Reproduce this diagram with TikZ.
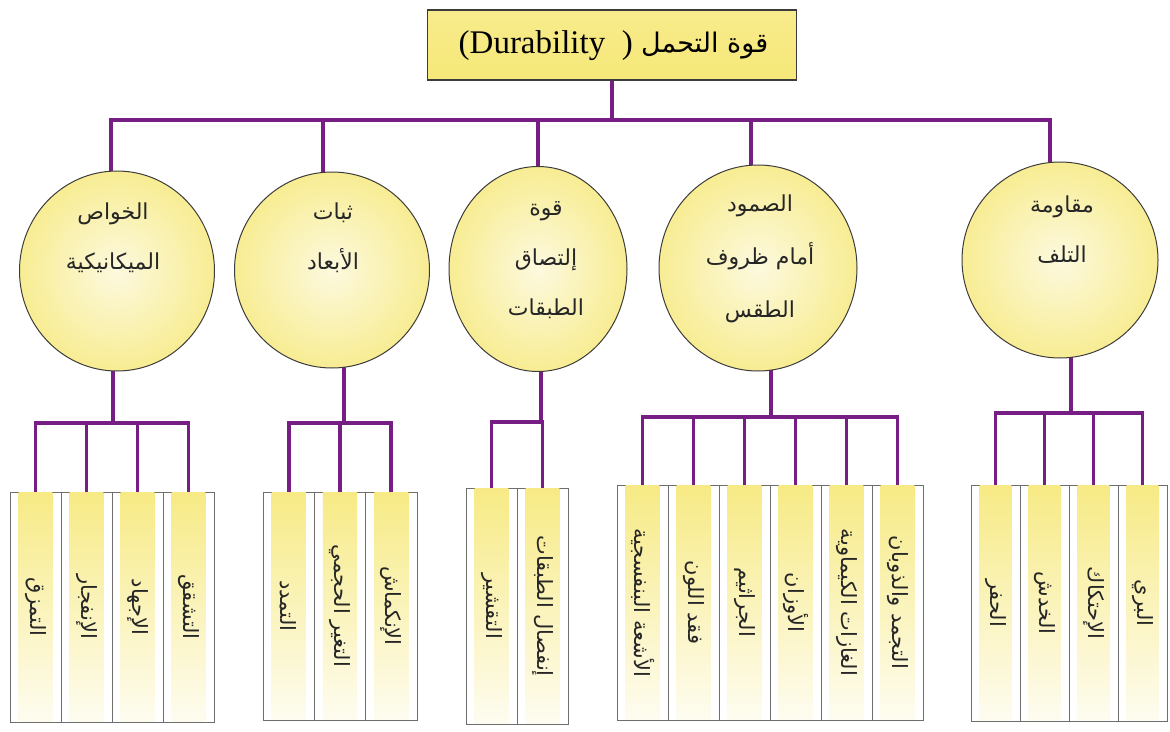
\documentclass[tikz,border=0pt]{standalone}
\usepackage{fontspec}
\setmainfont{Liberation Serif}
\newfontfamily\arabicfont[Script=Arabic]{DejaVu Sans}
\TeXXeTstate=1
\usetikzlibrary{shapes.geometric,calc,backgrounds}
\definecolor{conn}{RGB}{118,30,132}
\definecolor{yel}{RGB}{246,232,120}
\definecolor{yelpale}{RGB}{250,244,195}
\definecolor{edgegray}{RGB}{60,60,60}
\definecolor{leafgray}{RGB}{110,110,110}
\begin{document}
\begin{tikzpicture}[x=1pt,y=-1pt,
  link/.style={draw=conn,line width=3.8pt,line cap=rect,line join=miter},
  topbox/.style={rectangle,draw=edgegray,line width=1.1pt,top color=yel!85!white,bottom color=yel,minimum width=369pt,minimum height=70pt,inner sep=0pt},
  circ/.style={ellipse,draw=edgegray,line width=1pt,inner color=yelpale!55!white,outer color=yel!80!white,inner sep=0pt},
  circtext/.style={align=center,font={\arabicfont\fontsize{22}{50}\selectfont},text=black!85},
  leaf/.style={rectangle,draw=leafgray,line width=0.8pt,fill=white,inner sep=0pt},
  leaftext/.style={rotate=-90,font={\arabicfont\fontsize{21}{24}\selectfont},text=black!85},
  stripe/.style={top color=yel!90!white,middle color=yelpale!60!white,bottom color=yelpale!25!white}
]
\useasboundingbox (0,0) rectangle (1170,731);
\begin{scope}[on background layer]
  \fill[white] (0,0) rectangle (1170,731);
\end{scope}

% top box
\node[topbox] (top) at (612,45) {};
\node[font=\fontsize{33}{36}\selectfont,anchor=east,inner sep=0pt] (toplat) at (633,46) {(Durability\ \ )};
\node[font={\arabicfont\fontsize{27}{30}\selectfont},anchor=west,inner sep=0pt] (topar) at (641,46) {\beginR قوة التحمل\endR};

% circles
\node[circ,minimum width=195pt,minimum height=200pt] (c1) at (117,271) {};
\node[circ,minimum width=195pt,minimum height=196pt] (c2) at (332,270) {};
\node[circ,minimum width=178pt,minimum height=205pt] (c3) at (538,269) {};
\node[circ,minimum width=198pt,minimum height=206pt] (c4) at (758,268) {};
\node[circ,minimum width=196pt,minimum height=196pt] (c5) at (1060,260) {};

\node[circtext] (t1) at (113,238) {\beginR الخواص\endR\\\beginR الميكانيكية\endR};
\node[circtext] (t2) at (333,238) {\beginR ثبات\endR\\\beginR الأبعاد\endR};
\node[circtext] (t3) at (546,260) {\beginR قوة\endR\\\beginR إلتصاق\endR\\\beginR الطبقات\endR};
\node[circtext,font={\arabicfont\fontsize{22}{53}\selectfont}] (t4) at (760,259) {\beginR الصمود\endR\\\beginR أمام ظروف\endR\\\beginR الطقس\endR};
\node[circtext] (t5) at (1062,230) {\beginR مقاومة\endR\\\beginR التلف\endR};

% top connectors
\coordinate (d1) at (111,120);
\coordinate (d2) at (323,120);
\coordinate (d3) at (538,120);
\coordinate (d4) at (751,120);
\coordinate (d5) at (1050,120);
\begin{scope}[on background layer]
  \draw[link] (top.south) -- (top.south |- d1);
  \draw[link] (d1) -- (d5);
  \foreach \k in {1,...,5}{\draw[link] (d\k) -- (d\k |- c\k.center);}
\end{scope}

% junctions of lower bars
\coordinate (j1) at (113,423);
\coordinate (j2) at (344,423);
\coordinate (j3) at (541,422);
\coordinate (j4) at (771,417);
\coordinate (j5) at (1071,413);
\begin{scope}[on background layer]
  \foreach \k in {1,...,5}{\draw[link] (j\k) -- (j\k |- c\k.center);}
\end{scope}

% group 1
\foreach \i/\t in {1/التمزق,2/الإنفجار,3/الإجهاد,4/التشقق}{
  \node[leaf,minimum width=51pt,minimum height=230pt] (g1b\i) at ({35.5+(\i-1)*51},607) {};
  \fill[stripe] ($(g1b\i.north west)+(9,1)$) rectangle ($(g1b\i.south east)+(-9,-1)$);
  \node[leaftext] (g1t\i) at (g1b\i.center) {\beginR\t\endR};
  \begin{scope}[on background layer]\draw[link] (g1b\i.center) |- (j1);\end{scope}
}
% group 2
\foreach \i/\t in {1/التمدد,2/التغير الحجمي,3/الإنكماش}{
  \node[leaf,minimum width=51.3pt,minimum height=228pt] (g2b\i) at ({288.7+(\i-1)*51.3},606) {};
  \fill[stripe] ($(g2b\i.north west)+(9,1)$) rectangle ($(g2b\i.south east)+(-9,-1)$);
  \node[leaftext] (g2t\i) at (g2b\i.center) {\beginR\t\endR};
  \begin{scope}[on background layer]\draw[link] (g2b\i.center) |- (j2);\end{scope}
}
% group 3
\foreach \i/\t in {1/التقشير,2/إنفصال الطبقات}{
  \node[leaf,minimum width=51pt,minimum height=236pt] (g3b\i) at ({491.5+(\i-1)*51},606) {};
  \fill[stripe] ($(g3b\i.north west)+(9,1)$) rectangle ($(g3b\i.south east)+(-9,-1)$);
  \node[leaftext] (g3t\i) at (g3b\i.center) {\beginR\t\endR};
  \begin{scope}[on background layer]\draw[link] (g3b\i.center) |- (j3);\end{scope}
}
% group 4
\foreach \i/\t in {1/الأشعة البنفسجية,2/فقد اللون,3/الجراثيم,4/الأوزان,5/الغازات الكيماوية,6/التجمد والذوبان}{
  \node[leaf,minimum width=51pt,minimum height=235pt] (g4b\i) at ({642.5+(\i-1)*51},602.5) {};
  \fill[stripe] ($(g4b\i.north west)+(9,1)$) rectangle ($(g4b\i.south east)+(-9,-1)$);
  \node[leaftext] (g4t\i) at (g4b\i.center) {\beginR\t\endR};
  \begin{scope}[on background layer]\draw[link] (g4b\i.center) |- (j4);\end{scope}
}
% group 5
\foreach \i/\t in {1/الحفر,2/الخدش,3/الإحتكاك,4/البري}{
  \node[leaf,minimum width=49pt,minimum height=236pt] (g5b\i) at ({995.5+(\i-1)*49},603) {};
  \fill[stripe] ($(g5b\i.north west)+(9,1)$) rectangle ($(g5b\i.south east)+(-9,-1)$);
  \node[leaftext] (g5t\i) at (g5b\i.center) {\beginR\t\endR};
  \begin{scope}[on background layer]\draw[link] (g5b\i.center) |- (j5);\end{scope}
}
\end{tikzpicture}
\end{document}
